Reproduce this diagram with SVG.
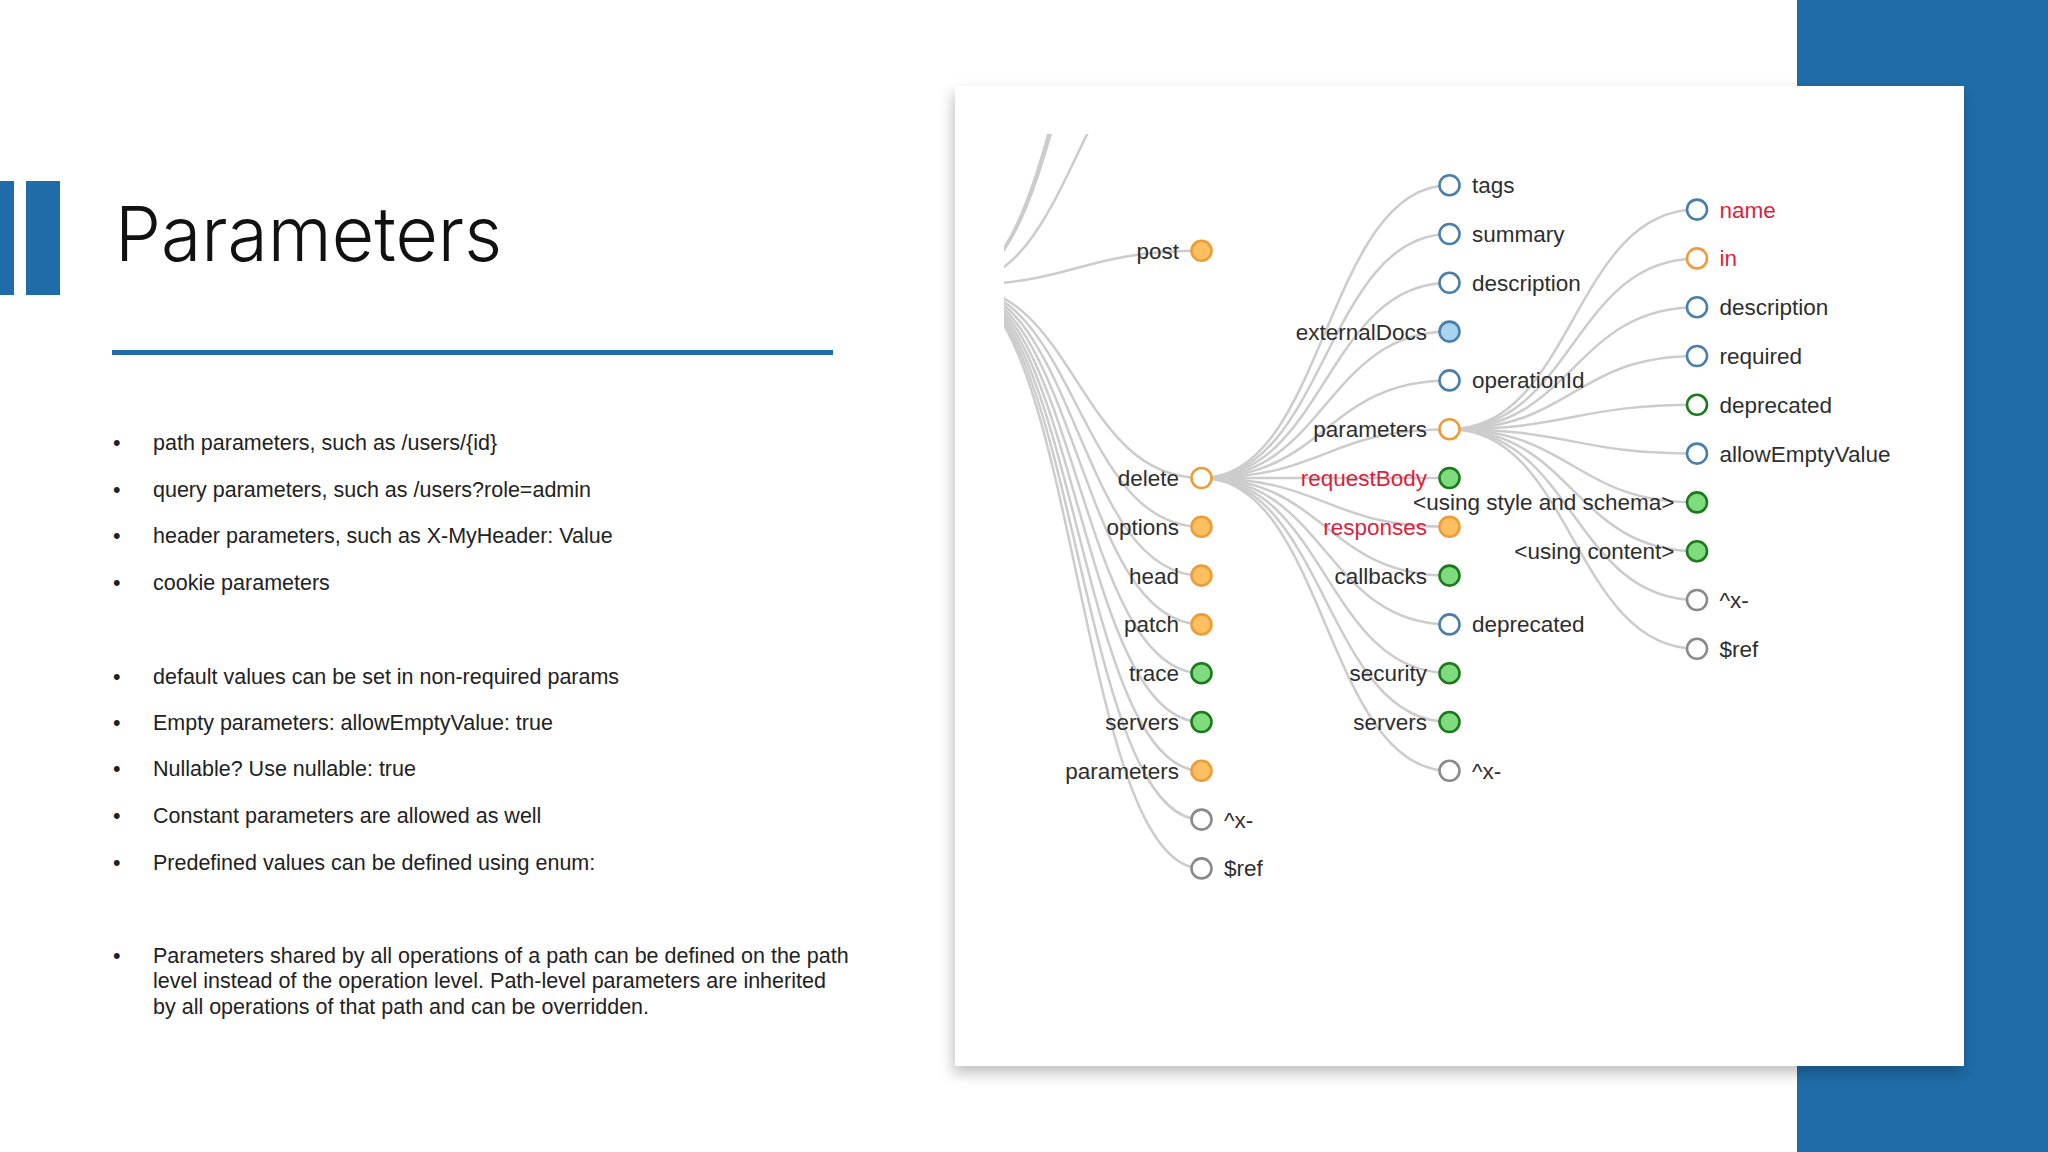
<svg xmlns="http://www.w3.org/2000/svg" width="2048" height="1152" viewBox="0 0 2048 1152">
<style>
.bul{font-family:"Liberation Sans",Arial,sans-serif;font-size:21.5px;fill:#222}
.lbl{font-family:"Liberation Sans",Arial,sans-serif;font-size:22.5px;fill:#2e2e2e}
.red{fill:#dc1f3c}
.l{text-anchor:end}
.lk{fill:none;stroke:#cccccc;stroke-width:2.5}
circle{stroke-width:2.6}
.of{fill:#fdbf5f;stroke:#ec9d3a}
.oh{fill:#ffffff;stroke:#ec9d3a}
.gf{fill:#7edc7e;stroke:#1c7a1c}
.gh{fill:#ffffff;stroke:#1c7a1c}
.bh{fill:#ffffff;stroke:#4a7fab}
.bf{fill:#a9d4f0;stroke:#4a7fab}
.xh{fill:#ffffff;stroke:#8a8a8a}
</style>
<defs>
<filter id="sh" x="-5%" y="-5%" width="110%" height="112%">
<feDropShadow dx="-2" dy="7" stdDeviation="7" flood-color="#000" flood-opacity="0.25"/>
</filter>
<clipPath id="treeclip"><rect x="1004" y="134" width="960" height="932"/></clipPath>
</defs>
<rect x="0" y="0" width="2048" height="1152" fill="#ffffff"/>
<rect x="1797" y="0" width="251" height="1152" fill="#1f6ca8"/>
<rect x="955" y="86" width="1009" height="980" fill="#ffffff" filter="url(#sh)"/>
<g id="accent">
<rect x="0" y="181" width="14" height="114" fill="#1f6ca8"/>
<rect x="26" y="181" width="34" height="114" fill="#1f6ca8"/>
<rect x="112" y="350" width="721" height="5" fill="#1f6ca8"/>
</g>
<text x="115" y="261" font-family="Inter,'Liberation Sans',Arial,sans-serif" font-weight="300" font-size="76" textLength="387" lengthAdjust="spacingAndGlyphs" fill="#111">Parameters</text>
<g id="bullets" class="bul">
<text x="113" y="450">•</text><text x="153" y="450">path parameters, such as /users/{id}</text>
<text x="113" y="497">•</text><text x="153" y="497">query parameters, such as /users?role=admin</text>
<text x="113" y="543">•</text><text x="153" y="543">header parameters, such as X-MyHeader: Value</text>
<text x="113" y="590">•</text><text x="153" y="590">cookie parameters</text>
<text x="113" y="684">•</text><text x="153" y="684">default values can be set in non-required params</text>
<text x="113" y="730">•</text><text x="153" y="730">Empty parameters: allowEmptyValue: true</text>
<text x="113" y="776">•</text><text x="153" y="776">Nullable? Use nullable: true</text>
<text x="113" y="823">•</text><text x="153" y="823">Constant parameters are allowed as well</text>
<text x="113" y="870">•</text><text x="153" y="870">Predefined values can be defined using enum:</text>
<text x="113" y="963">•</text><text x="153" y="963">Parameters shared by all operations of a path can be defined on the path</text>
<text x="153" y="988">level instead of the operation level. Path-level parameters are inherited</text>
<text x="153" y="1014">by all operations of that path and can be overridden.</text>
</g>
<g id="connectors" clip-path="url(#treeclip)">
<path class="lk" d="M953,285 C1077,285 1077,-250 1201.5,-250"/>
<path class="lk" d="M953,285 C1077,285 1077,-235 1201.5,-235"/>
<path class="lk" d="M953,285 C1077,285 1077,-220 1201.5,-220"/>
<path class="lk" d="M953,285 C1077,285 1077,25 1201.5,25"/>
<path class="lk" d="M953,285 C1077,285 1077,250.8 1201.5,250.8"/>
<path class="lk" d="M953,285 C1077,285 1077,478 1201.5,478"/>
<path class="lk" d="M953,285 C1077,285 1077,526.8 1201.5,526.8"/>
<path class="lk" d="M953,285 C1077,285 1077,575.6 1201.5,575.6"/>
<path class="lk" d="M953,285 C1077,285 1077,624.4 1201.5,624.4"/>
<path class="lk" d="M953,285 C1077,285 1077,673.2 1201.5,673.2"/>
<path class="lk" d="M953,285 C1077,285 1077,722 1201.5,722"/>
<path class="lk" d="M953,285 C1077,285 1077,770.8 1201.5,770.8"/>
<path class="lk" d="M953,285 C1077,285 1077,819.6 1201.5,819.6"/>
<path class="lk" d="M953,285 C1077,285 1077,868.4 1201.5,868.4"/>
<path class="lk" d="M1201.5,478 C1325.5,478 1325.5,185.2 1449.5,185.2"/>
<path class="lk" d="M1201.5,478 C1325.5,478 1325.5,234 1449.5,234"/>
<path class="lk" d="M1201.5,478 C1325.5,478 1325.5,282.8 1449.5,282.8"/>
<path class="lk" d="M1201.5,478 C1325.5,478 1325.5,331.6 1449.5,331.6"/>
<path class="lk" d="M1201.5,478 C1325.5,478 1325.5,380.4 1449.5,380.4"/>
<path class="lk" d="M1201.5,478 C1325.5,478 1325.5,429.2 1449.5,429.2"/>
<path class="lk" d="M1201.5,478 C1325.5,478 1325.5,478 1449.5,478"/>
<path class="lk" d="M1201.5,478 C1325.5,478 1325.5,526.8 1449.5,526.8"/>
<path class="lk" d="M1201.5,478 C1325.5,478 1325.5,575.6 1449.5,575.6"/>
<path class="lk" d="M1201.5,478 C1325.5,478 1325.5,624.4 1449.5,624.4"/>
<path class="lk" d="M1201.5,478 C1325.5,478 1325.5,673.2 1449.5,673.2"/>
<path class="lk" d="M1201.5,478 C1325.5,478 1325.5,722 1449.5,722"/>
<path class="lk" d="M1201.5,478 C1325.5,478 1325.5,770.8 1449.5,770.8"/>
<path class="lk" d="M1449.5,429.2 C1573,429.2 1573,209.6 1697,209.6"/>
<path class="lk" d="M1449.5,429.2 C1573,429.2 1573,258.4 1697,258.4"/>
<path class="lk" d="M1449.5,429.2 C1573,429.2 1573,307.2 1697,307.2"/>
<path class="lk" d="M1449.5,429.2 C1573,429.2 1573,356 1697,356"/>
<path class="lk" d="M1449.5,429.2 C1573,429.2 1573,404.8 1697,404.8"/>
<path class="lk" d="M1449.5,429.2 C1573,429.2 1573,453.6 1697,453.6"/>
<path class="lk" d="M1449.5,429.2 C1573,429.2 1573,502.4 1697,502.4"/>
<path class="lk" d="M1449.5,429.2 C1573,429.2 1573,551.2 1697,551.2"/>
<path class="lk" d="M1449.5,429.2 C1573,429.2 1573,600 1697,600"/>
<path class="lk" d="M1449.5,429.2 C1573,429.2 1573,648.8 1697,648.8"/>
</g>
<g id="n-post"><circle class="of" cx="1201.5" cy="250.8" r="10"/><text class="lbl l" x="1179" y="258.8">post</text></g>
<g id="n-delete"><circle class="oh" cx="1201.5" cy="478" r="10"/><text class="lbl l" x="1179" y="486">delete</text></g>
<g id="n-options"><circle class="of" cx="1201.5" cy="526.8" r="10"/><text class="lbl l" x="1179" y="534.8">options</text></g>
<g id="n-head"><circle class="of" cx="1201.5" cy="575.6" r="10"/><text class="lbl l" x="1179" y="583.6">head</text></g>
<g id="n-patch"><circle class="of" cx="1201.5" cy="624.4" r="10"/><text class="lbl l" x="1179" y="632.4">patch</text></g>
<g id="n-trace"><circle class="gf" cx="1201.5" cy="673.2" r="10"/><text class="lbl l" x="1179" y="681.2">trace</text></g>
<g id="n-servers1"><circle class="gf" cx="1201.5" cy="722" r="10"/><text class="lbl l" x="1179" y="730">servers</text></g>
<g id="n-parameters1"><circle class="of" cx="1201.5" cy="770.8" r="10"/><text class="lbl l" x="1179" y="778.8">parameters</text></g>
<g id="n-x1"><circle class="xh" cx="1201.5" cy="819.6" r="10"/><text class="lbl" x="1224" y="827.6">^x-</text></g>
<g id="n-ref1"><circle class="xh" cx="1201.5" cy="868.4" r="10"/><text class="lbl" x="1224" y="876.4">$ref</text></g>
<g id="n-tags"><circle class="bh" cx="1449.5" cy="185.2" r="10"/><text class="lbl" x="1472" y="193.2">tags</text></g>
<g id="n-summary"><circle class="bh" cx="1449.5" cy="234" r="10"/><text class="lbl" x="1472" y="242">summary</text></g>
<g id="n-description2"><circle class="bh" cx="1449.5" cy="282.8" r="10"/><text class="lbl" x="1472" y="290.8">description</text></g>
<g id="n-externalDocs"><circle class="bf" cx="1449.5" cy="331.6" r="10"/><text class="lbl l" x="1427" y="339.6">externalDocs</text></g>
<g id="n-operationId"><circle class="bh" cx="1449.5" cy="380.4" r="10"/><text class="lbl" x="1472" y="388.4">operationId</text></g>
<g id="n-parameters2"><circle class="oh" cx="1449.5" cy="429.2" r="10"/><text class="lbl l" x="1427" y="437.2">parameters</text></g>
<g id="n-requestBody"><circle class="gf" cx="1449.5" cy="478" r="10"/><text class="lbl l red" x="1427" y="486">requestBody</text></g>
<g id="n-responses"><circle class="of" cx="1449.5" cy="526.8" r="10"/><text class="lbl l red" x="1427" y="534.8">responses</text></g>
<g id="n-callbacks"><circle class="gf" cx="1449.5" cy="575.6" r="10"/><text class="lbl l" x="1427" y="583.6">callbacks</text></g>
<g id="n-deprecated2"><circle class="bh" cx="1449.5" cy="624.4" r="10"/><text class="lbl" x="1472" y="632.4">deprecated</text></g>
<g id="n-security"><circle class="gf" cx="1449.5" cy="673.2" r="10"/><text class="lbl l" x="1427" y="681.2">security</text></g>
<g id="n-servers2"><circle class="gf" cx="1449.5" cy="722" r="10"/><text class="lbl l" x="1427" y="730">servers</text></g>
<g id="n-x2"><circle class="xh" cx="1449.5" cy="770.8" r="10"/><text class="lbl" x="1472" y="778.8">^x-</text></g>
<g id="n-name"><circle class="bh" cx="1697" cy="209.6" r="10"/><text class="lbl red" x="1719.5" y="217.6">name</text></g>
<g id="n-in"><circle class="oh" cx="1697" cy="258.4" r="10"/><text class="lbl red" x="1719.5" y="266.4">in</text></g>
<g id="n-description3"><circle class="bh" cx="1697" cy="307.2" r="10"/><text class="lbl" x="1719.5" y="315.2">description</text></g>
<g id="n-required"><circle class="bh" cx="1697" cy="356" r="10"/><text class="lbl" x="1719.5" y="364">required</text></g>
<g id="n-deprecated3"><circle class="gh" cx="1697" cy="404.8" r="10"/><text class="lbl" x="1719.5" y="412.8">deprecated</text></g>
<g id="n-allowEmptyValue"><circle class="bh" cx="1697" cy="453.6" r="10"/><text class="lbl" x="1719.5" y="461.6">allowEmptyValue</text></g>
<g id="n-styleSchema"><circle class="gf" cx="1697" cy="502.4" r="10"/><text class="lbl l" x="1674.5" y="510.4">&lt;using style and schema&gt;</text></g>
<g id="n-content"><circle class="gf" cx="1697" cy="551.2" r="10"/><text class="lbl l" x="1674.5" y="559.2">&lt;using content&gt;</text></g>
<g id="n-x3"><circle class="xh" cx="1697" cy="600" r="10"/><text class="lbl" x="1719.5" y="608">^x-</text></g>
<g id="n-ref3"><circle class="xh" cx="1697" cy="648.8" r="10"/><text class="lbl" x="1719.5" y="656.8">$ref</text></g>
</svg>
